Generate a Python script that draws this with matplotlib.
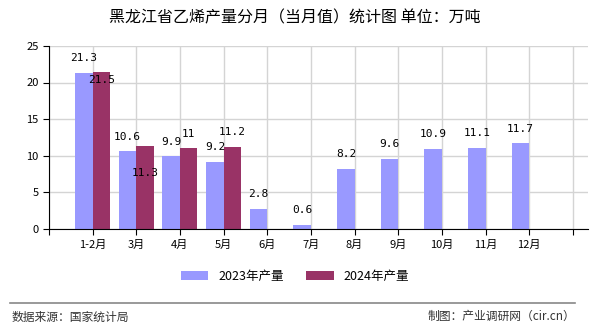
import numpy as np
import matplotlib
matplotlib.use("Agg")
import matplotlib.pyplot as plt

plt.rcParams['font.family'] = ['Noto Sans CJK SC', 'DejaVu Sans']

# données
mois = ['1-2月', '3月', '4月', '5月', '6月', '7月', '8月', '9月', '10月', '11月', '12月']
prod_2023 = [21.3, 10.6, 9.9, 9.2, 2.8, 0.6, 8.2, 9.6, 10.9, 11.1, 11.7]
prod_2024 = [21.5, 11.3, 11, 11.2]
lab_2024 = ['21.5', '11.3', '11', '11.2']
# décalage vertical des étiquettes 2024 (en points)
dy_2024 = [-2.5, -16, 7, 7]

c23 = '#9999ff'
c24 = '#993366'

fig = plt.figure(figsize=(5.9, 3.3), dpi=100)
ax = fig.add_axes([0.083, 0.306, 0.914, 0.555])

x = np.arange(len(mois))
w = 0.4
ax.bar(x - w / 2, prod_2023, w, color=c23, label='2023年产量', zorder=2)
x24 = np.arange(len(prod_2024))
ax.bar(x24 + w / 2, prod_2024, w, color=c24, label='2024年产量', zorder=2)

for xi, v in zip(x, prod_2023):
    ax.annotate(f'{v:g}', (xi - w / 2, v), xytext=(0, 7), textcoords='offset points',
                ha='center', va='bottom', fontsize=8, family='DejaVu Sans Mono')
for xi, v, t, d in zip(x24, prod_2024, lab_2024, dy_2024):
    ax.annotate(t, (xi + w / 2, v), xytext=(0, d), textcoords='offset points',
                ha='center', va='bottom' if d > 0 else 'top', fontsize=8,
                family='DejaVu Sans Mono')

ax.set_xlim(-1, 11.35)
ax.set_ylim(0, 25)
ax.set_yticks(np.arange(0, 26, 5))
ax.set_xticks(np.arange(-1, 12))
ax.set_xticklabels([''] + mois + [''])
ax.tick_params(axis='both', labelsize=8, length=4, color='black')
ax.grid(True, color='#d4d4d4', linewidth=1, zorder=0)
ax.set_axisbelow(True)
for s in ['top', 'right']:
    ax.spines[s].set_visible(False)

fig.text(0.5, 0.945, '黑龙江省乙烯产量分月（当月值）统计图 单位：万吨',
         ha='center', va='center', fontsize=11.5)

fig.legend(loc='center', bbox_to_anchor=(0.5, 0.163), ncol=2, frameon=False,
           fontsize=9, handlelength=2.2, handleheight=0.8, columnspacing=1.8)

fig.add_artist(plt.Line2D([0.017, 0.975], [0.082, 0.082], color='#888888', lw=1.2,
                          transform=fig.transFigure))
fig.text(0.02, 0.04, '数据来源：国家统计局', fontsize=8.5, color='#333333', va='center')
fig.text(0.975, 0.04, '制图：产业调研网（cir.cn）', fontsize=8.5, color='#333333',
         va='center', ha='right')

plt.savefig('out.png', dpi=100)
